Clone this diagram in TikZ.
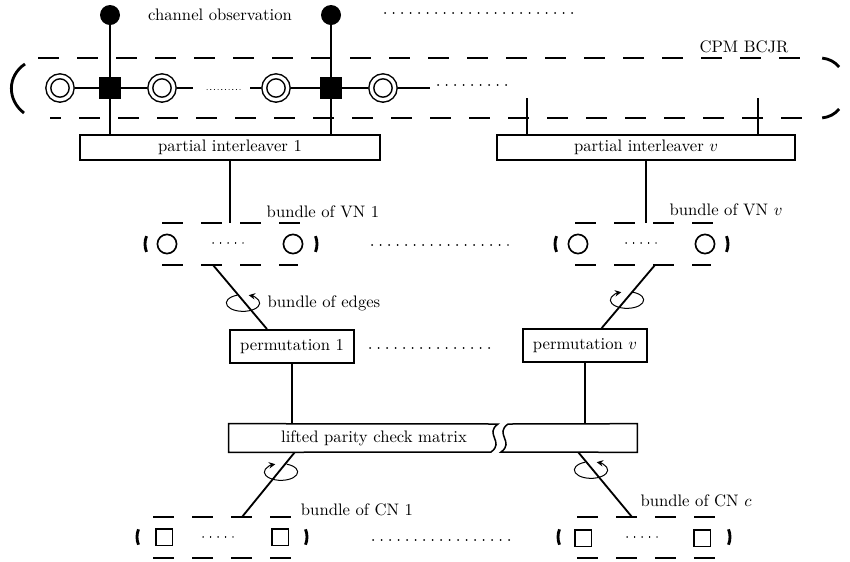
\documentclass[tikz,border=0pt]{standalone}
\usepackage{amsmath}
\usepackage{amssymb}
\usepackage{tikz}
\usetikzlibrary{arrows.meta}

\begin{document}
\begin{tikzpicture}[x=0.6pt,y=-0.6pt,
  obsnode/.style={circle,fill=black,inner sep=0pt,minimum size=12pt},
  statenode/.style={circle,draw,double,double distance=2pt,line width=0.9pt,inner sep=0pt,outer sep=1.9pt,minimum size=14pt},
  factnode/.style={rectangle,fill=black,inner sep=0pt,minimum size=13pt},
  vnode/.style={circle,draw,line width=1pt,inner sep=0pt,minimum size=11.5pt},
  cnode/.style={rectangle,draw,line width=1pt,inner sep=0pt,minimum size=10pt},
  blockbox/.style={draw,line width=0.9pt,inner sep=0pt,minimum height=15pt},
  permbox/.style={draw,line width=0.9pt,inner xsep=6pt,minimum height=20pt},
  bundleline/.style={line width=1.7pt,dash pattern=on 12.6pt off 10.8pt},
  bundleend/.style={line width=1.7pt},
  edgeline/.style={line width=1.1pt},
  thinline/.style={line width=0.7pt},
  bigdots/.style={line width=1.1pt,line cap=round,dash pattern=on 0.1pt off 5pt},
  fewdots/.style={line width=0.8pt,line cap=round,dash pattern=on 0.1pt off 4.4pt},
  smalldots/.style={line width=0.6pt,line cap=round,dash pattern=on 0.1pt off 2.1pt},
  spin/.style={line width=0.6pt,-{Stealth[length=3.8pt,width=3.8pt]}},
]
\useasboundingbox (0,0) rectangle (850,561);

% channel observations
\node[obsnode] (obs1) at (110,15) {};
\node[obsnode] (obs2) at (331,15) {};
\node (chlabel) at (220,15) {channel observation};
\draw[bigdots] (385,13) -- (577,13);

% CPM BCJR
\node (cpmlabel) at (744,47) {CPM BCJR};
\draw[bundleline] (38,58) -- (808,58);
\draw[bundleline,dash phase=6pt] (50,118) -- (808,118);
\draw[bundleend] (25,64) .. controls (7,76) and (7,100) .. (24,113);
\draw[bundleend] ([shift={(85:15pt)}]820,83) arc[start angle=85,end angle=40,radius=15pt];
\draw[bundleend] ([shift={(-40:15pt)}]820,93) arc[start angle=-40,end angle=-85,radius=15pt];

\node[statenode] (s1) at (60,88) {};
\node[factnode] (f1) at (110,88) {};
\node[statenode] (s2) at (162,88) {};
\node[statenode] (s3) at (276,88) {};
\node[factnode] (f2) at (331,88) {};
\node[statenode] (s4) at (383,88) {};
\coordinate (tr1) at (193,88);
\coordinate (tr2) at (250,88);
\coordinate (tr3) at (430,88);
\draw[thinline] (s1) -- (f1) -- (s2) -- (tr1);
\draw[smalldots] (207,89) -- (240,89);
\draw[thinline] (tr2) -- (s3) -- (f2) -- (s4) -- (tr3);
\draw[bigdots] (438,85) -- (512,85);

% partial interleavers
\node[blockbox,minimum width=180pt] (pi1) at (230,147.5) {partial interleaver 1};
\node[blockbox,minimum width=179pt] (piv) at (646,147.5) {partial interleaver $v$};
\draw[thinline] (obs1) -- (f1) -- (obs1 |- pi1.north);
\draw[thinline] (obs2) -- (f2) -- (obs2 |- pi1.north);
\coordinate (in3) at (527,98);
\coordinate (in4) at (758,98);
\draw[thinline] (in3) -- (in3 |- piv.north);
\draw[thinline] (in4) -- (in4 |- piv.north);

% bundle of VN 1
\node[vnode] (v11) at (167,244) {};
\node[vnode] (v1n) at (293,244) {};
\draw[fewdots] (213,243) -- (243,243);
\draw[bundleline] (162,223) -- (300,223);
\draw[bundleline] (162,265) -- (298,265);
\draw[bundleend] ([shift={(158:12.6pt)}]166,244) arc[start angle=158,end angle=202,radius=12.6pt];
\draw[bundleend] ([shift={(-22:12.6pt)}]296,244) arc[start angle=-22,end angle=22,radius=12.6pt];
\node (vn1label) at (323,212) {bundle of VN 1};
\coordinate (vt1) at (230,223);
\coordinate (vb1) at (213,265);

% bundle of VN v
\node[vnode] (vv1) at (578,244) {};
\node[vnode] (vvn) at (705,244) {};
\draw[fewdots] (626,243) -- (656,243);
\draw[bundleline] (575,223) -- (713,223);
\draw[bundleline] (575,265) -- (711,265);
\draw[bundleend] ([shift={(158:12.6pt)}]576,244) arc[start angle=158,end angle=202,radius=12.6pt];
\draw[bundleend] ([shift={(-22:12.6pt)}]707,244) arc[start angle=-22,end angle=22,radius=12.6pt];
\node (vnvlabel) at (726,210) {bundle of VN $v$};
\coordinate (vtv) at (646,223);
\coordinate (vbv) at (655,265);

\draw[thinline] (pi1.south) -- (vt1);
\draw[thinline] (piv.south) -- (vtv);
\draw[bigdots] (372,245) -- (508,245);

% permutations
\node[permbox] (perm1) at (292,346.5) {permutation 1};
\node[permbox] (permv) at (585,345.5) {permutation $v$};
\draw[bigdots] (370,348) -- (497,348);
\draw[edgeline] (vb1) -- ([xshift=-15pt]perm1.north);
\draw[edgeline] (vbv) -- ([xshift=10pt]permv.north);
\draw[spin] ([shift={(110:10pt and 5pt)}]243,303) arc[start angle=110,end angle=430,x radius=10pt,y radius=5pt];
\draw[spin] ([shift={(70:10pt and 5pt)}]627,300) arc[start angle=70,end angle=-250,x radius=10pt,y radius=5pt];
\node (edgelabel) at (324,303) {bundle of edges};

% lifted parity check matrix
\node[minimum width=244.8pt,minimum height=16.8pt,inner sep=0pt] (lpcm) at (433,438) {};
\node (lpcmtext) at (374,438) {lifted parity check matrix};
\draw[line width=0.9pt] (lpcm.north west) -- (498,424) .. controls (484,434) and (505,442) .. (491,452) -- (lpcm.south west) -- cycle;
\draw[line width=0.9pt] (508,424) -- (lpcm.north east) -- (lpcm.south east) -- (501,452) .. controls (515,442) and (494,434) .. (508,424);
\draw[thinline] (perm1.south) -- (perm1.south |- lpcm.north);
\draw[thinline] (permv.south) -- (permv.south |- lpcm.north);

% bundle of CN 1
\node[cnode] (c11) at (164,537) {};
\node[cnode] (c1n) at (280,537) {};
\draw[fewdots] (203,537) -- (233,537);
\draw[bundleline] (153,517) -- (293,517);
\draw[bundleline] (153,558) -- (293,558);
\draw[bundleend] ([shift={(158:12.3pt)}]157.5,537) arc[start angle=158,end angle=202,radius=12.3pt];
\draw[bundleend] ([shift={(-22:12.3pt)}]286.5,537) arc[start angle=-22,end angle=22,radius=12.3pt];
\node (cn1label) at (357,510) {bundle of CN 1};
\coordinate (ct1) at (242,517);

% bundle of CN c
\node[cnode] (cc1) at (583,538) {};
\node[cnode] (ccn) at (702,538) {};
\draw[fewdots] (627,537) -- (657,537);
\draw[bundleline] (577,517) -- (715,517);
\draw[bundleline] (577,558) -- (715,558);
\draw[bundleend] ([shift={(158:12.3pt)}]578.5,537) arc[start angle=158,end angle=202,radius=12.3pt];
\draw[bundleend] ([shift={(-22:12.3pt)}]709.5,537) arc[start angle=-22,end angle=22,radius=12.3pt];
\node (cnclabel) at (696,501) {bundle of CN $c$};
\coordinate (ctc) at (632,517);

\draw[bigdots] (373,540) -- (510,540);
\draw[edgeline] ([xshift=39.6pt]lpcm.south west) -- (ct1);
\draw[edgeline] ([xshift=-35.4pt]lpcm.south east) -- (ctc);
\draw[spin] ([shift={(70:10pt and 5pt)}]281,472) arc[start angle=70,end angle=-250,x radius=10pt,y radius=5pt];
\draw[spin] ([shift={(110:10pt and 5pt)}]591,470) arc[start angle=110,end angle=430,x radius=10pt,y radius=5pt];
\end{tikzpicture}
\end{document}
